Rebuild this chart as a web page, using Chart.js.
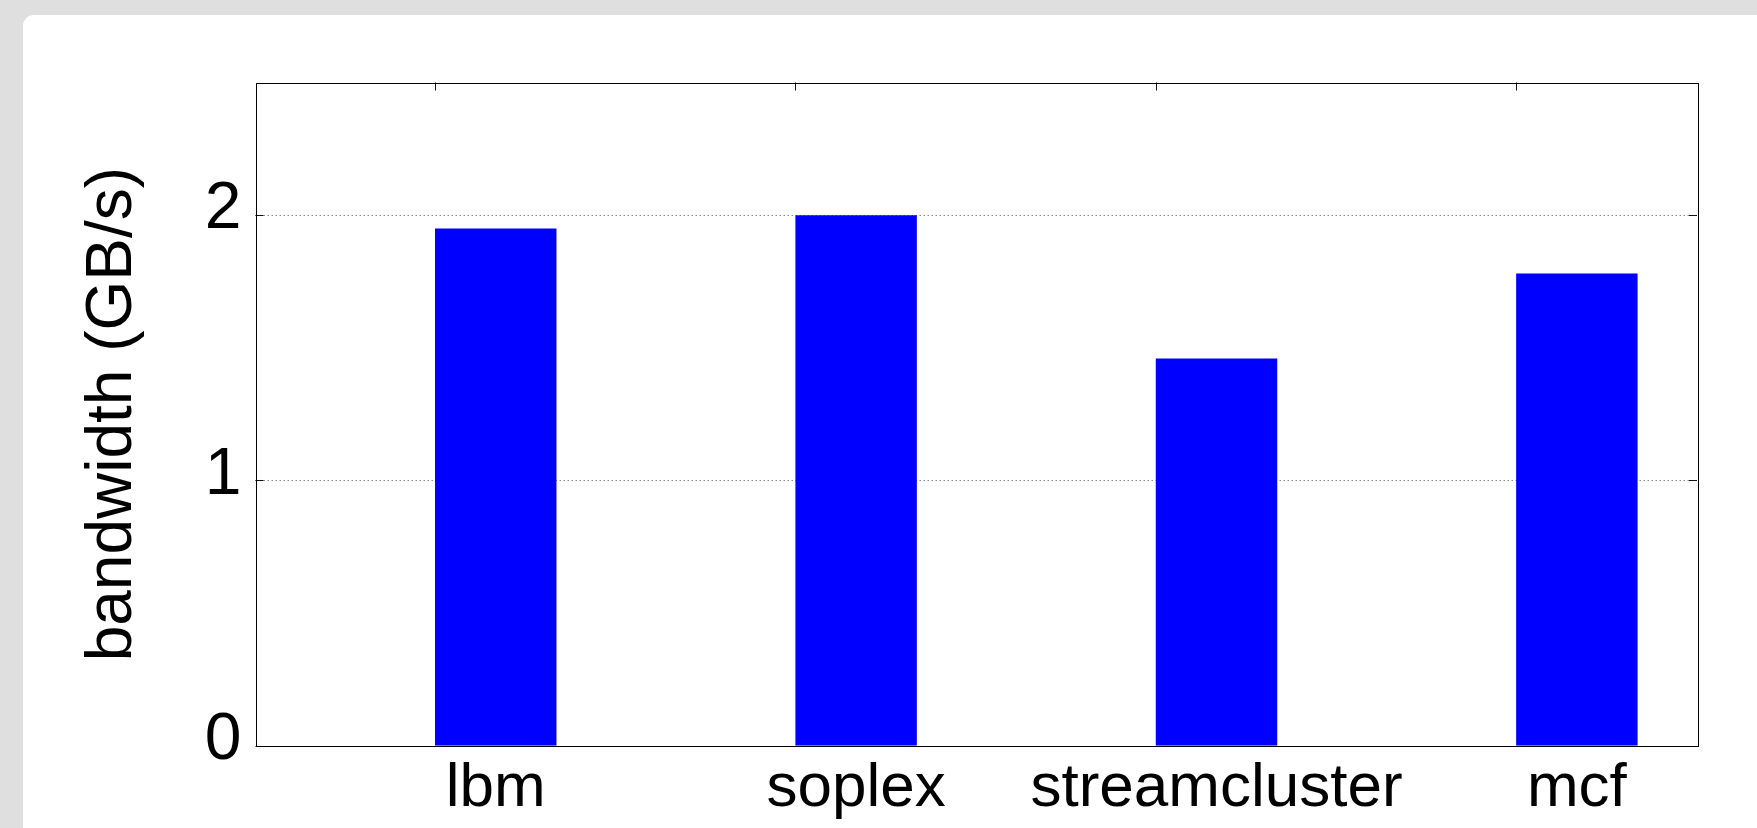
<!DOCTYPE html>
<html>
<head>
<meta charset="utf-8">
<script src="https://cdn.jsdelivr.net/npm/chart.js@4.4.0/dist/chart.umd.min.js"></script>
<style>
  html, body { margin: 0; padding: 0; width: 1757px; height: 828px; overflow: hidden; background: #dfdfdf; }
  #card { position: absolute; left: 23px; top: 15px; width: 1780px; height: 860px; background: #ffffff; border-radius: 11px; }
  #wrap { position: absolute; left: 0; top: 0; width: 1757px; height: 828px; }
</style>
</head>
<body>
<div id="card"></div>
<div id="wrap"><canvas id="c" width="1757" height="828"></canvas></div>
<script>
// Benchmarks and measured memory bandwidth (GB/s)
const categories = ['lbm', 'soplex', 'streamcluster', 'mcf'];
const bandwidth = [1.95, 2.00, 1.46, 1.78];
const yTickValues = [0, 1, 2];
const yTitle = 'bandwidth (GB/s)';

const FONT = '"Liberation Sans", Arial, sans-serif';

// Plot frame, dotted grid and inward tick marks, drawn from the chart's scales
const framePlugin = {
  id: 'frame',
  beforeDatasetsDraw(chart) {
    const { ctx, chartArea: a, scales: { y } } = chart;
    ctx.save();
    ctx.strokeStyle = '#8a8a8a';
    ctx.lineWidth = 1;
    ctx.setLineDash([1.5, 2.5]);
    y.ticks.forEach(t => {
      if (t.value === 0) return;
      const py = Math.round(y.getPixelForValue(t.value)) + 0.5;
      ctx.beginPath();
      ctx.moveTo(a.left, py);
      ctx.lineTo(a.right, py);
      ctx.stroke();
    });
    ctx.restore();
  },
  afterDatasetsDraw(chart) {
    const { ctx, chartArea: a, scales: { y } } = chart;
    const tick = 8;
    ctx.save();
    ctx.strokeStyle = '#111';
    ctx.lineWidth = 1;
    // y ticks on both sides
    y.ticks.forEach(t => {
      const py = Math.round(y.getPixelForValue(t.value)) + 0.5;
      ctx.beginPath();
      ctx.moveTo(a.left, py); ctx.lineTo(a.left + tick, py);
      ctx.moveTo(a.right, py); ctx.lineTo(a.right - tick, py);
      ctx.stroke();
    });
    // x ticks along the top edge, at the left side of each bar
    const meta = chart.getDatasetMeta(0);
    meta.data.forEach(el => {
      const px = Math.round(el.x - el.width / 2) + 0.5;
      ctx.beginPath();
      ctx.moveTo(px, a.top); ctx.lineTo(px, a.top + tick);
      ctx.stroke();
    });
    // frame
    ctx.strokeStyle = '#000';
    ctx.strokeRect(Math.round(a.left) + 0.5, Math.round(a.top) + 0.5,
                   Math.round(a.right - a.left), Math.round(a.bottom - a.top));
    ctx.restore();
  }
};

new Chart(document.getElementById('c'), {
  type: 'bar',
  data: {
    datasets: [{
      data: categories.map((c, i) => ({ x: i, y: bandwidth[i] })),
      backgroundColor: '#0000ff',
      borderWidth: 0,
      categoryPercentage: 1,
      barPercentage: 0.337
    }]
  },
  plugins: [framePlugin],
  options: {
    responsive: false,
    animation: false,
    devicePixelRatio: 1,
    layout: { padding: { top: 82.5, right: 60, left: 0, bottom: 0 } },
    plugins: { legend: { display: false }, tooltip: { enabled: false } },
    scales: {
      x: {
        type: 'linear',
        offset: false,
        bounds: 'data',
        min: -2 / 3,
        max: 10 / 3,
        afterBuildTicks: s => { s.ticks = categories.map((c, i) => ({ value: i })); },
        afterFit: s => { s.height = 828 - 745.7; },
        grid: { display: false, drawTicks: false, offset: false },
        border: { display: false },
        ticks: {
          autoSkip: false,
          maxRotation: 0,
          padding: 6,
          color: '#000',
          font: { family: FONT, size: 62 },
          callback: v => categories[v]
        }
      },
      y: {
        min: 0,
        max: 2.5,
        afterBuildTicks: s => { s.ticks = yTickValues.map(v => ({ value: v })); },
        afterFit: s => { s.width = 255.5; },
        grid: { display: false, drawTicks: false },
        border: { display: false },
        ticks: {
          padding: 14,
          labelOffset: -5,
          color: '#000',
          font: { family: FONT, size: 66 },
          callback: v => String(v)
        },
        title: {
          display: true,
          text: yTitle,
          color: '#000',
          font: { family: FONT, size: 64 },
          padding: { top: 75, bottom: 0 }
        }
      }
    }
  }
});
</script>
</body>
</html>
